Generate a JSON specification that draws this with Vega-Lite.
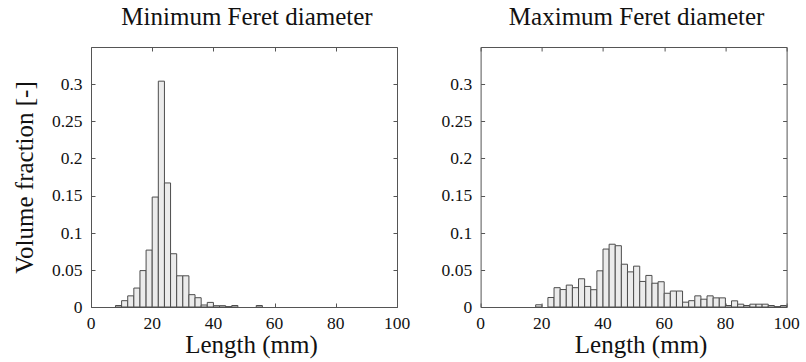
{
  "$schema": "https://vega.github.io/schema/vega-lite/v6.json",
  "padding": {"left": 12, "top": 5, "right": 2, "bottom": 2},
  "background": "white",
  "bounds": "flush",
  "spacing": 83.6,
  "config": {
    "font": "Liberation Serif",
    "view": {"stroke": null},
    "axis": {
      "domainColor": "#555555",
      "domainWidth": 1,
      "tickColor": "#555555",
      "tickSize": -4,
      "tickWidth": 1,
      "titleFont": "Liberation Serif",
      "titleFontSize": 25,
      "titleFontWeight": "normal",
      "titleColor": "#111111",
      "grid": false,
      "labelFlush": false,
      "labelOverlap": false
    },
    "title": {"font": "Liberation Serif", "fontSize": 25, "fontWeight": "normal", "color": "#111111", "baseline": "alphabetic", "offset": 16.3, "anchor": "middle"}
  },
  "datasets": {
    "xt": [{"t": 0}, {"t": 20}, {"t": 40}, {"t": 60}, {"t": 80}, {"t": 100}],
    "yt": [{"t": 0}, {"t": 0.05}, {"t": 0.1}, {"t": 0.15}, {"t": 0.2}, {"t": 0.25}, {"t": 0.3}],
    "minF": [
      {"a": 8, "b": 10, "v": 0.002},
      {"a": 10, "b": 12, "v": 0.0085},
      {"a": 12, "b": 14, "v": 0.015},
      {"a": 14, "b": 16, "v": 0.0255},
      {"a": 16, "b": 18, "v": 0.049},
      {"a": 18, "b": 20, "v": 0.0766},
      {"a": 20, "b": 22, "v": 0.148},
      {"a": 22, "b": 24, "v": 0.304},
      {"a": 24, "b": 26, "v": 0.167},
      {"a": 26, "b": 28, "v": 0.0717},
      {"a": 28, "b": 30, "v": 0.042},
      {"a": 30, "b": 32, "v": 0.042},
      {"a": 32, "b": 34, "v": 0.0166},
      {"a": 34, "b": 36, "v": 0.0125},
      {"a": 36, "b": 38, "v": 0.0027},
      {"a": 38, "b": 40, "v": 0.0062},
      {"a": 40, "b": 42, "v": 0.0018},
      {"a": 42, "b": 44, "v": 0.0018},
      {"a": 44, "b": 46, "v": 0.0005},
      {"a": 46, "b": 48, "v": 0.002},
      {"a": 54, "b": 56, "v": 0.002}
    ],
    "maxF": [
      {"a": 18, "b": 20, "v": 0.003},
      {"a": 22, "b": 24, "v": 0.0128},
      {"a": 24, "b": 26, "v": 0.026},
      {"a": 26, "b": 28, "v": 0.0235},
      {"a": 28, "b": 30, "v": 0.0295},
      {"a": 30, "b": 32, "v": 0.026},
      {"a": 32, "b": 34, "v": 0.038},
      {"a": 34, "b": 36, "v": 0.0277},
      {"a": 36, "b": 38, "v": 0.0233},
      {"a": 38, "b": 40, "v": 0.0487},
      {"a": 40, "b": 42, "v": 0.078},
      {"a": 42, "b": 44, "v": 0.0845},
      {"a": 44, "b": 46, "v": 0.0825},
      {"a": 46, "b": 48, "v": 0.0576},
      {"a": 48, "b": 50, "v": 0.0473},
      {"a": 50, "b": 52, "v": 0.055},
      {"a": 52, "b": 54, "v": 0.0344},
      {"a": 54, "b": 56, "v": 0.0425},
      {"a": 56, "b": 58, "v": 0.032},
      {"a": 58, "b": 60, "v": 0.034},
      {"a": 60, "b": 62, "v": 0.0185},
      {"a": 62, "b": 64, "v": 0.0215},
      {"a": 64, "b": 66, "v": 0.0215},
      {"a": 66, "b": 68, "v": 0.0065},
      {"a": 68, "b": 70, "v": 0.0085},
      {"a": 70, "b": 72, "v": 0.015},
      {"a": 72, "b": 74, "v": 0.0105},
      {"a": 74, "b": 76, "v": 0.015},
      {"a": 76, "b": 78, "v": 0.0123},
      {"a": 78, "b": 80, "v": 0.0123},
      {"a": 80, "b": 82, "v": 0.002},
      {"a": 82, "b": 84, "v": 0.0083},
      {"a": 84, "b": 86, "v": 0.0038},
      {"a": 86, "b": 88, "v": 0.002},
      {"a": 88, "b": 90, "v": 0.0038},
      {"a": 90, "b": 92, "v": 0.0038},
      {"a": 92, "b": 94, "v": 0.0038},
      {"a": 94, "b": 96, "v": 0.002},
      {"a": 96, "b": 98, "v": 0.0005},
      {"a": 98, "b": 100, "v": 0.002}
    ]
  },
  "hconcat": [
    {
      "width": 306,
      "height": 260,
      "title": {"text": "Minimum Feret diameter", "dx": 3},
      "layer": [
        {
          "data": {"name": "minF"},
          "mark": {"type": "rect", "fill": "#ebebeb", "stroke": "#4d4d4d", "strokeWidth": 1},
          "encoding": {
            "x": {"field": "a", "type": "quantitative", "scale": {"domain": [0, 100], "nice": false},
                  "axis": {"orient": "bottom", "values": [0, 20, 40, 60, 80, 100], "labels": false, "title": "Length (mm)", "titleBaseline": "alphabetic", "titleY": 45.4, "titleX": 160}},
            "x2": {"field": "b"},
            "y": {"field": "v", "type": "quantitative", "scale": {"domain": [0, 0.35], "nice": false},
                  "axis": {"orient": "left", "values": [0, 0.05, 0.1, 0.15, 0.2, 0.25, 0.3], "labels": false, "title": "Volume fraction [-]", "titleBaseline": "alphabetic", "titleX": -58.5}},
            "y2": {"datum": 0}
          }
        },
        {
          "data": {"name": "minF"},
          "mark": {"type": "point", "opacity": 0},
          "encoding": {
            "x": {"field": "a", "type": "quantitative", "axis": {"orient": "top", "values": [0, 20, 40, 60, 80, 100], "labels": false, "title": null}},
            "y": {"field": "v", "type": "quantitative", "axis": {"orient": "right", "values": [0, 0.05, 0.1, 0.15, 0.2, 0.25, 0.3], "labels": false, "title": null}}
          }
        },
        {
          "data": {"name": "xt"},
          "mark": {"type": "text", "font": "Liberation Serif", "fontSize": 17.5, "color": "#111111", "align": "center", "baseline": "alphabetic", "dy": 21.7},
          "encoding": {
            "x": {"field": "t", "type": "quantitative", "axis": null},
            "y": {"datum": 0, "type": "quantitative", "axis": null},
            "text": {"field": "t", "type": "quantitative", "format": "~g"}
          }
        },
        {
          "data": {"name": "yt"},
          "mark": {"type": "text", "font": "Liberation Serif", "fontSize": 17.5, "color": "#111111", "align": "right", "baseline": "alphabetic", "dx": -8.4, "dy": 5.9},
          "encoding": {
            "x": {"datum": 0, "type": "quantitative", "axis": null},
            "y": {"field": "t", "type": "quantitative", "axis": null},
            "text": {"field": "t", "type": "quantitative", "format": "~g"}
          }
        }
      ],
      "resolve": {"axis": {"x": "independent", "y": "independent"}}
    },
    {
      "width": 306,
      "height": 260,
      "title": {"text": "Maximum Feret diameter", "dx": 3},
      "layer": [
        {
          "data": {"name": "maxF"},
          "mark": {"type": "rect", "fill": "#ebebeb", "stroke": "#4d4d4d", "strokeWidth": 1},
          "encoding": {
            "x": {"field": "a", "type": "quantitative", "scale": {"domain": [0, 100], "nice": false},
                  "axis": {"orient": "bottom", "values": [0, 20, 40, 60, 80, 100], "labels": false, "title": "Length (mm)", "titleBaseline": "alphabetic", "titleY": 45.4, "titleX": 160}},
            "x2": {"field": "b"},
            "y": {"field": "v", "type": "quantitative", "scale": {"domain": [0, 0.35], "nice": false},
                  "axis": {"orient": "left", "values": [0, 0.05, 0.1, 0.15, 0.2, 0.25, 0.3], "labels": false, "title": null}},
            "y2": {"datum": 0}
          }
        },
        {
          "data": {"name": "maxF"},
          "mark": {"type": "point", "opacity": 0},
          "encoding": {
            "x": {"field": "a", "type": "quantitative", "axis": {"orient": "top", "values": [0, 20, 40, 60, 80, 100], "labels": false, "title": null}},
            "y": {"field": "v", "type": "quantitative", "axis": {"orient": "right", "values": [0, 0.05, 0.1, 0.15, 0.2, 0.25, 0.3], "labels": false, "title": null}}
          }
        },
        {
          "data": {"name": "xt"},
          "mark": {"type": "text", "font": "Liberation Serif", "fontSize": 17.5, "color": "#111111", "align": "center", "baseline": "alphabetic", "dy": 21.7},
          "encoding": {
            "x": {"field": "t", "type": "quantitative", "axis": null},
            "y": {"datum": 0, "type": "quantitative", "axis": null},
            "text": {"field": "t", "type": "quantitative", "format": "~g"}
          }
        },
        {
          "data": {"name": "yt"},
          "mark": {"type": "text", "font": "Liberation Serif", "fontSize": 17.5, "color": "#111111", "align": "right", "baseline": "alphabetic", "dx": -8.4, "dy": 5.9},
          "encoding": {
            "x": {"datum": 0, "type": "quantitative", "axis": null},
            "y": {"field": "t", "type": "quantitative", "axis": null},
            "text": {"field": "t", "type": "quantitative", "format": "~g"}
          }
        }
      ],
      "resolve": {"axis": {"x": "independent", "y": "independent"}}
    }
  ]
}
